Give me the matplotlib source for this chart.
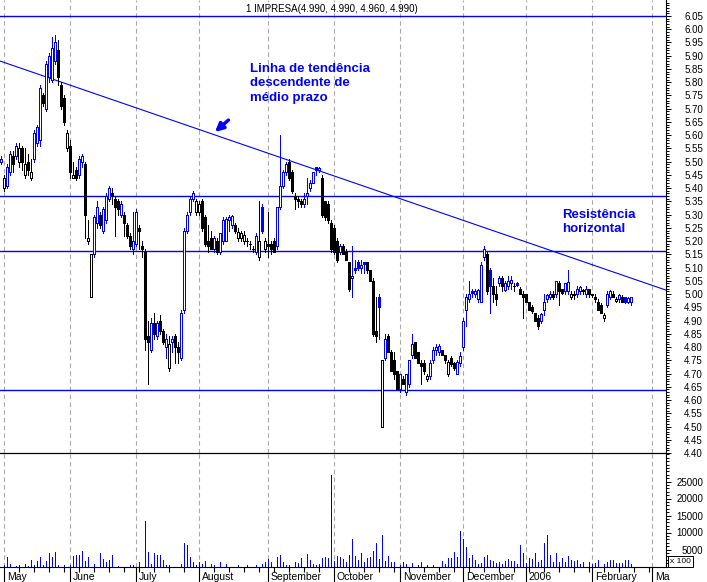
import numpy as np
import matplotlib
matplotlib.use("Agg")
import matplotlib.pyplot as plt
import matplotlib.transforms as mtransforms

plt.rcParams['font.family'] = ['Liberation Sans', 'DejaVu Sans']

# ---- dados (IMPRESA, diário, Abr/2005 - Fev/2006) ----
opens = [5.50, 5.40, 5.41, 5.46, 5.52, 5.52, 5.50, 5.55, 5.45, 5.50, 5.44, 5.51, 5.57, 5.58, 5.75, 5.70, 5.82, 5.81, 5.88, 5.92, 5.79, 5.74, 5.55,
         5.56, 5.44, 5.47, 5.45, 5.50, 5.49, 5.20, 4.99, 5.15, 5.27, 5.30, 5.24, 5.28, 5.36, 5.38, 5.36, 5.35, 5.30, 5.30, 5.26, 5.22, 5.17,
         5.19, 5.25, 5.18, 5.16, 4.84, 4.79, 4.89, 4.84, 4.90, 4.86, 4.80, 4.72, 4.82, 4.84, 4.80, 4.76, 4.94, 5.24, 5.31, 5.36, 5.31,
         5.31, 5.35, 5.29, 5.20, 5.21, 5.17, 5.20, 5.16, 5.20, 5.20, 5.28, 5.26, 5.26, 5.21, 5.21, 5.20, 5.20, 5.19, 5.17, 5.16, 5.14, 5.33, 5.17,
         5.19, 5.19, 5.20, 5.18, 5.33, 5.41, 5.46, 5.50, 5.46, 5.37, 5.36, 5.35, 5.34, 5.37, 5.40, 5.42, 5.48, 5.47, 5.44, 5.35, 5.34, 5.27,
         5.25, 5.20, 5.16, 5.18, 5.16, 5.12, 5.06, 5.10, 5.12, 5.10, 5.12, 5.12, 5.09, 5.05, 4.86, 4.99, 4.50, 4.76, 4.84, 4.78, 4.75, 4.71,
         4.64, 4.68, 4.63, 4.66, 4.77, 4.82, 4.78, 4.74, 4.74, 4.68, 4.69, 4.75, 4.79, 4.78, 4.79, 4.77, 4.70, 4.76, 4.74, 4.70, 4.74,
         4.80, 4.94, 4.98, 5.01, 5.00, 4.98, 4.97, 5.14, 5.15, 5.09, 5.03, 5.00, 5.04, 5.06, 5.015, 5.03, 5.04, 5.03, 5.04, 5.02,
         5.00, 5.00, 4.97, 4.95, 4.93, 4.91, 4.90, 4.94, 4.98, 4.99, 5.00, 5.00, 5.04, 5.02, 5.01, 5.01, 4.99, 5.00, 5.00, 5.01, 5.015, 5.00, 5.02,
         5.00, 4.99, 4.97, 4.96, 4.91, 4.96, 4.99, 5.00, 4.975, 4.98, 4.99, 4.99, 4.97, 4.97]
highs = [5.52, 5.45, 5.49, 5.54, 5.54, 5.57, 5.57, 5.56, 5.55, 5.53, 5.51, 5.62, 5.64, 5.79, 5.76, 5.88, 5.91, 5.97, 5.98, 5.96, 5.80, 5.75, 5.62,
         5.58, 5.50, 5.48, 5.52, 5.53, 5.50, 5.28, 5.15, 5.30, 5.35, 5.31, 5.33, 5.38, 5.41, 5.40, 5.37, 5.36, 5.35, 5.31, 5.27, 5.23, 5.31,
         5.32, 5.26, 5.20, 5.17, 4.90, 4.91, 4.93, 4.90, 4.92, 4.87, 4.85, 4.84, 4.84, 4.85, 4.82, 4.94, 5.25, 5.31, 5.37, 5.39, 5.36,
         5.35, 5.36, 5.30, 5.26, 5.24, 5.22, 5.21, 5.23, 5.29, 5.29, 5.30, 5.30, 5.27, 5.25, 5.24, 5.24, 5.21, 5.20, 5.18, 5.23, 5.35, 5.34, 5.21,
         5.31, 5.20, 5.21, 5.33, 5.60, 5.47, 5.50, 5.51, 5.47, 5.38, 5.37, 5.36, 5.38, 5.44, 5.43, 5.46, 5.48, 5.48, 5.45, 5.35, 5.35, 5.28,
         5.26, 5.21, 5.19, 5.19, 5.17, 5.12, 5.18, 5.13, 5.13, 5.13, 5.12, 5.12, 5.09, 5.06, 4.99, 5.00, 4.75, 4.85, 4.85, 4.79, 4.78, 4.71,
         4.70, 4.69, 4.70, 4.75, 4.85, 4.82, 4.78, 4.75, 4.75, 4.70, 4.75, 4.80, 4.81, 4.81, 4.79, 4.77, 4.75, 4.765, 4.745, 4.75, 4.78,
         4.91, 5.00, 5.05, 5.02, 5.02, 5.02, 5.12, 5.18, 5.16, 5.10, 5.06, 5.03, 5.07, 5.07, 5.05, 5.07, 5.07, 5.04, 5.045, 5.025,
         5.01, 5.00, 4.97, 4.96, 4.93, 4.92, 4.93, 5.00, 5.00, 5.01, 5.01, 5.05, 5.05, 5.02, 5.04, 5.09, 5.01, 5.01, 5.03, 5.03, 5.02, 5.03, 5.02,
         5.00, 5.00, 4.98, 4.965, 4.93, 5.01, 5.015, 5.01, 4.99, 5.00, 4.995, 4.99, 4.99, 4.99]
lows = [5.49, 5.39, 5.40, 5.45, 5.46, 5.51, 5.48, 5.47, 5.44, 5.45, 5.43, 5.50, 5.56, 5.56, 5.71, 5.69, 5.80, 5.80, 5.87, 5.79, 5.70, 5.64, 5.54,
        5.44, 5.44, 5.43, 5.44, 5.48, 5.21, 5.19, 4.99, 5.14, 5.25, 5.25, 5.23, 5.27, 5.35, 5.34, 5.22, 5.30, 5.29, 5.22, 5.21, 5.17, 5.15,
        5.18, 5.17, 5.14, 4.79, 4.66, 4.78, 4.83, 4.83, 4.85, 4.81, 4.76, 4.71, 4.78, 4.74, 4.74, 4.75, 4.93, 5.23, 5.30, 5.35, 5.30,
        5.30, 5.24, 5.18, 5.16, 5.17, 5.16, 5.15, 5.15, 5.19, 5.20, 5.24, 5.25, 5.23, 5.20, 5.20, 5.19, 5.18, 5.17, 5.16, 5.15, 5.13, 5.23, 5.16,
        5.14, 5.15, 5.16, 5.17, 5.32, 5.40, 5.45, 5.43, 5.38, 5.32, 5.33, 5.33, 5.33, 5.34, 5.39, 5.42, 5.45, 5.46, 5.29, 5.28, 5.27, 5.16,
        5.15, 5.12, 5.15, 5.15, 5.13, 5.01, 4.99, 5.08, 5.09, 5.08, 5.08, 5.08, 5.05, 4.84, 4.82, 4.83, 4.50, 4.75, 4.78, 4.71, 4.68, 4.64,
        4.63, 4.66, 4.62, 4.65, 4.76, 4.76, 4.74, 4.66, 4.70, 4.67, 4.68, 4.74, 4.77, 4.77, 4.77, 4.74, 4.69, 4.73, 4.715, 4.70, 4.73,
        4.79, 4.88, 4.97, 4.99, 4.99, 4.97, 4.97, 5.13, 5.00, 4.93, 4.97, 4.96, 5.03, 5.01, 5.01, 5.02, 5.02, 5.01, 5.03, 5.00,
        4.91, 4.97, 4.94, 4.93, 4.90, 4.87, 4.89, 4.92, 4.97, 4.98, 4.98, 4.99, 4.96, 5.00, 5.00, 5.00, 4.98, 4.98, 4.99, 5.00, 5.00, 4.99, 4.99,
        4.99, 4.97, 4.94, 4.93, 4.90, 4.95, 4.98, 4.99, 4.97, 4.97, 4.97, 4.965, 4.965, 4.96]
closes = [5.51, 5.44, 5.48, 5.53, 5.49, 5.56, 5.55, 5.50, 5.49, 5.47, 5.46, 5.61, 5.63, 5.78, 5.72, 5.87, 5.90, 5.93, 5.95, 5.82, 5.71, 5.65, 5.61,
          5.46, 5.45, 5.44, 5.51, 5.52, 5.30, 5.21, 5.15, 5.29, 5.33, 5.26, 5.32, 5.37, 5.40, 5.37, 5.33, 5.32, 5.34, 5.27, 5.22, 5.18, 5.20,
          5.31, 5.24, 5.17, 4.83, 4.82, 4.89, 4.85, 4.89, 4.86, 4.82, 4.83, 4.81, 4.83, 4.80, 4.78, 4.93, 5.24, 5.30, 5.36, 5.38, 5.35,
          5.34, 5.25, 5.19, 5.18, 5.17, 5.21, 5.16, 5.23, 5.28, 5.285, 5.29, 5.295, 5.24, 5.235, 5.23, 5.225, 5.20, 5.19, 5.17, 5.22, 5.20, 5.24, 5.20,
          5.18, 5.17, 5.16, 5.33, 5.41, 5.46, 5.49, 5.44, 5.39, 5.36, 5.35, 5.34, 5.36, 5.38, 5.42, 5.46, 5.47, 5.475, 5.30, 5.29, 5.28, 5.17,
          5.16, 5.13, 5.18, 5.15, 5.13, 5.02, 5.07, 5.09, 5.10, 5.11, 5.115, 5.09, 5.05, 4.85, 4.84, 4.95, 4.75, 4.83, 4.78, 4.71, 4.70, 4.64,
          4.70, 4.66, 4.70, 4.75, 4.81, 4.76, 4.74, 4.73, 4.71, 4.69, 4.74, 4.79, 4.80, 4.805, 4.77, 4.75, 4.745, 4.735, 4.72, 4.745, 4.765,
          4.90, 4.99, 5.00, 5.005, 5.01, 5.015, 5.11, 5.17, 5.01, 5.03, 5.00, 4.98, 5.06, 5.03, 5.04, 5.05, 5.055, 5.03, 5.035, 5.00,
          4.99, 4.97, 4.94, 4.935, 4.90, 4.88, 4.925, 4.97, 4.995, 5.00, 4.99, 5.05, 5.01, 5.005, 5.04, 5.045, 5.00, 4.995, 5.02, 5.025, 5.01, 5.02, 5.00,
          4.995, 4.98, 4.94, 4.93, 4.92, 5.00, 5.01, 4.99, 4.98, 4.995, 4.97, 4.97, 4.985, 4.99]
volumes = [0, 500, 2900, 800, 0, 100, 400, 0, 600, 100, 2000, 500, 1500, 2900, 500, 1500, 3900, 2900, 4400, 300, 0, 300, 0,
           300, 3200, 3500, 3300, 4700, 1500, 2900, 0, 600, 0, 4100, 2300, 1200, 1800, 3500, 0, 100, 0, 0, 0, 300, 300,
           0, 1200, 0, 13500, 4400, 800, 4100, 3500, 3500, 1800, 300, 300, 0, 0, 0, 800, 7000, 6400, 2900, 1200, 300,
           1200, 800, 1500, 0, 600, 300, 0, 1200, 0, 600, 0, 0, 0, 300, 0, 0, 300, 0, 0, 300, 0, 800, 1200,
           2300, 1200, 0, 2900, 3500, 1200, 300, 300, 0, 1200, 900, 2600, 0, 3800, 1800, 600, 300, 600, 2600, 2900, 2600, 27000,
           1500, 3200, 2900, 2300, 1200, 3500, 8200, 3200, 1800, 3900, 1200, 2600, 2900, 4700, 6800, 2300, 9400, 1500, 3200, 1200, 1200, 0,
           300, 1200, 600, 0, 900, 0, 300, 1200, 0, 300, 0, 300, 0, 0, 1500, 600, 2600, 2600, 4400, 2900, 10300,
           8200, 5600, 2600, 3500, 1800, 600, 900, 2900, 3500, 1800, 1500, 900, 1200, 600, 1500, 2300, 1500, 1500, 600, 6200,
           4100, 900, 2600, 2300, 4100, 1200, 2000, 7000, 9400, 3500, 1200, 4100, 1200, 2600, 1200, 3200, 1800, 1500, 1800, 600, 1200, 0, 1200,
           600, 900, 2000, 0, 600, 1200, 1800, 1800, 900, 900, 900, 1800, 2000, 600]

month_names = ['May', 'June', 'July', 'August', 'September', 'October', 'November', 'December', '2006', 'February', 'Ma']
month_starts = [1, 23, 45, 66, 89, 111, 133, 154, 175, 197, 217]

resist_levels = [6.05, 5.37, 5.163, 4.637]
trend_x = [-0.33, 221.67]
trend_y = [5.880, 5.015]

title = "1 IMPRESA(4.990, 4.990, 4.960, 4.990)"
BLUE = '#0000ff'
GRID = '#a8a8a8'

# ---- figura ----
W, H = 707, 582
fig = plt.figure(figsize=(W / 100, H / 100), dpi=100)
ax = fig.add_axes([0, 1 - 453 / H, 666 / W, 453 / H])
axv = fig.add_axes([0, 1 - 566.5 / H, 666 / W, (566.5 - 453) / H])
axv.set_facecolor('none')

x = np.arange(len(closes))
o = np.array(opens); hi = np.array(highs); lo = np.array(lows); c = np.array(closes)
prev = np.r_[c[0] - 1, c[:-1]]
cols = [BLUE if c[i] >= prev[i] else 'black' for i in range(len(c))]
faces = ['white' if c[i] >= o[i] else cols[i] for i in range(len(c))]

# grelha dos meses
for m in month_starts:
    ax.axvline(m, color=GRID, lw=0.8, ls=(0, (4, 3)), zorder=0)
    axv.axvline(m, color=GRID, lw=0.8, ls=(0, (4, 3)), zorder=0)

# velas
ax.vlines(x, lo, hi, colors=cols, lw=0.72, zorder=2, antialiased=False)
ax.bar(x, np.abs(c - o), bottom=np.minimum(o, c), width=0.68, color=faces,
       edgecolor=cols, linewidth=0.72, zorder=3, antialiased=False)

# linhas de suporte / resistencia e tendencia
for lv in resist_levels:
    ax.axhline(lv, color=BLUE, lw=1.0, zorder=1)
ax.plot(trend_x, trend_y, color=BLUE, lw=0.8, zorder=1)

ax.set_xlim(-1 / 3, 665 / 3)
ax.set_ylim(4.40, 6.05 + 16 / 264.8)

ax.text(83.0, 5.872, "Linha de tendência\ndescendente de\nmédio prazo", color=BLUE,
        fontsize=9.5, fontweight='bold', ha='left', va='top', linespacing=1.25)
ax.text(187.0, 5.322, "Resistência\nhorizontal", color=BLUE,
        fontsize=9.5, fontweight='bold', ha='left', va='top', linespacing=1.25)
ax.annotate('', xy=(71.3, 5.612), xytext=(75.8, 5.657),
            arrowprops=dict(arrowstyle='-|>', color=BLUE, lw=2.5, mutation_scale=12,
                            shrinkA=0, shrinkB=0))

# eixo de precos
for s in ['left', 'top']:
    ax.spines[s].set_visible(False)
ax.spines['right'].set_linewidth(0.8)
ax.spines['bottom'].set_linewidth(0.9)
ax.yaxis.tick_right()
ax.set_yticks(np.round(np.arange(4.40, 6.051, 0.05), 2))
ax.set_yticklabels(['%.2f' % v for v in np.arange(4.40, 6.051, 0.05)])
ax.set_yticks(np.arange(4.40, 6.11, 0.01), minor=True)
ax.tick_params(axis='y', which='major', length=3.6, width=0.7, labelsize=7, pad=23)
ax.tick_params(axis='y', which='minor', length=2.2, width=0.7)
for t in ax.get_yticklabels():
    t.set_ha('right')
ax.tick_params(axis='x', which='both', bottom=False, labelbottom=False)

# volume
axv.vlines(x, 0, volumes, colors=BLUE, lw=0.72, antialiased=False)
axv.set_xlim(-1 / 3, 665 / 3)
axv.set_ylim(0, 113.5 * 1000 / 3.4)
for s in ['left', 'top']:
    axv.spines[s].set_visible(False)
axv.spines['right'].set_linewidth(0.8)
axv.spines['bottom'].set_linewidth(0.8)
axv.yaxis.tick_right()
axv.set_yticks([5000, 10000, 15000, 20000, 25000])
axv.set_yticks(np.arange(0, 33001, 1000), minor=True)
axv.tick_params(axis='y', which='major', length=3.6, width=0.7, labelsize=7, pad=23)
axv.tick_params(axis='y', which='minor', length=2.2, width=0.7)
for t in axv.get_yticklabels():
    t.set_ha('right')
axv.text(1.006, 0.012, 'x 100', transform=axv.transAxes, fontsize=6, ha='left', va='bottom',
         bbox=dict(boxstyle='square,pad=0.2', fc='white', ec='black', lw=0.7), clip_on=False,
         zorder=5)

axv.set_xticks(month_starts)
axv.set_xticklabels([])
axv.set_xticks(np.arange(6, 220, 5), minor=True)
axv.tick_params(axis='x', which='major', length=11.5, width=0.8)
axv.tick_params(axis='x', which='minor', length=3.5, width=0.8)

trans = mtransforms.blended_transform_factory(axv.transData, axv.transAxes)
for m, name in zip(month_starts, month_names):
    axv.text(m + 0.9, -0.095, name, transform=trans, fontsize=7.5, ha='left', va='center',
             clip_on=False)

fig.text(332 / W, 1 - 9 / H, title, ha='center', va='center', fontsize=7)

fig.savefig('out.png', dpi=100)
